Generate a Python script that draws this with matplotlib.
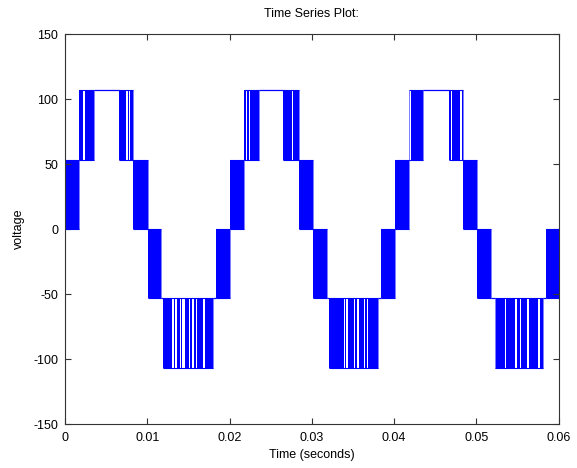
import matplotlib
matplotlib.use('Agg')
import matplotlib.pyplot as plt

plt.rcParams.update({
    'font.family': ['Liberation Sans', 'DejaVu Sans'],
    'font.size': 9,
    'axes.unicode_minus': False,
})

LINE_COLOR = '#0000FF'

# voltage levels of the staircase
L1 = 53.3
L2 = 106.7

# dense-switching bands (times in ms): start, end, low level, high level
band_start = [0.00, 1.70, 6.60, 8.30, 10.13, 11.95, 18.36, 20.06, 21.76, 26.54,
              28.45, 30.11, 32.10, 38.46, 40.12, 41.82, 46.72, 48.43, 50.13, 52.24, 58.48]
band_end = [1.70, 3.49, 8.30, 10.13, 11.67, 18.03, 20.06, 21.76, 23.55, 28.45,
            30.11, 31.82, 38.00, 40.12, 41.82, 43.56, 48.43, 50.13, 51.80, 58.15, 60.00]
band_low = [0, L1, L1, 0, -L1, -L2, -L1, 0, L1, L1,
            0, -L1, -L2, -L1, 0, L1, L1, 0, -L1, -L2, -L1]
band_high = [L1, L2, L2, L1, 0, -L1, 0, L1, L2, L2,
             L1, 0, -L1, 0, L1, L2, L2, L1, 0, -L1, 0]

# flat stretches where the output holds one level (ms)
flat_start = [3.49, 11.67, 18.03, 23.55, 31.82, 38.00, 43.56, 51.80, 58.15]
flat_end = [6.60, 11.95, 18.36, 26.54, 32.10, 38.46, 46.72, 52.24, 58.48]
flat_level = [L2, -L1, -L1, L2, -L1, -L1, L2, -L1, -L1]

# short pauses inside the switching bands (ms)
gap_times = [2.30, 7.55, 7.85,
             13.09, 13.52, 14.04, 14.35, 14.53, 15.14, 15.56, 15.99, 16.87,
             22.06, 22.43, 27.66,
             33.98, 34.25, 35.20, 35.62, 36.41, 36.78,
             41.95, 46.97, 48.15,
             52.34, 53.56, 54.83, 55.38, 56.29, 57.63]
GAP_W = 0.2

fig = plt.figure(figsize=(5.77, 4.68), dpi=100)
ax = fig.add_axes([0.1127, 0.094, 0.8553, 0.8333])

for s, e, lo, hi in zip(band_start, band_end, band_low, band_high):
    cuts = [s] + sorted(g for g in gap_times if s < g < e) + [e]
    pieces = []
    left = s
    for g in cuts[1:-1]:
        pieces.append((left, g - GAP_W / 2))
        left = g + GAP_W / 2
    pieces.append((left, e))
    for a, b in pieces:
        ax.bar(a / 1000, hi - lo, width=(b - a) / 1000, bottom=lo, align='edge',
               color=LINE_COLOR, linewidth=0)
    ax.hlines([lo, hi], s / 1000, e / 1000, color=LINE_COLOR, linewidth=0.8)
    ax.vlines([s / 1000, e / 1000], lo, hi, color=LINE_COLOR, linewidth=0.6, alpha=0.6)

ax.hlines(flat_level, [t / 1000 for t in flat_start], [t / 1000 for t in flat_end],
          color=LINE_COLOR, linewidth=0.9)

ax.set_xlim(0, 0.06)
ax.set_ylim(-150, 150)
ax.set_xticks([0, 0.01, 0.02, 0.03, 0.04, 0.05, 0.06])
ax.set_xticklabels(['0', '0.01', '0.02', '0.03', '0.04', '0.05', '0.06'])
ax.set_yticks([-150, -100, -50, 0, 50, 100, 150])
ax.set_yticklabels(['-150', '-100', '-50', '0', '50', '100', '150'])
ax.tick_params(direction='in', length=4, width=0.8, top=True, right=True,
               color='#333333', labelsize=9)
ax.tick_params(axis='x', pad=6)
ax.tick_params(axis='y', pad=5)
for sp in ax.spines.values():
    sp.set_color('#333333')
    sp.set_linewidth(0.8)

ax.set_title('Time Series Plot:', fontsize=9, pad=12)
ax.set_xlabel('Time (seconds)', fontsize=9, labelpad=3)
ax.set_ylabel('voltage', fontsize=9, labelpad=6)

fig.savefig('out.png', dpi=100)
